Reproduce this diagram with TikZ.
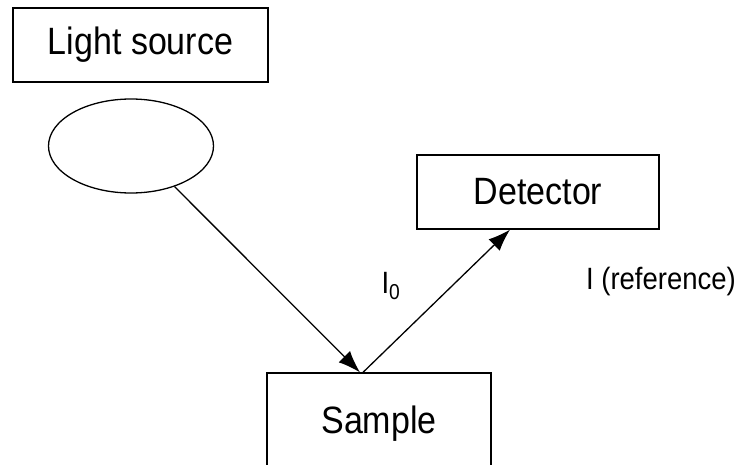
\documentclass[tikz,border=0pt]{standalone}
\usepackage{fontspec}
\setmainfont{Liberation Sans}
\usetikzlibrary{arrows.meta,shapes.geometric}
\tikzset{
  boxnode/.style={draw, line width=1.3pt, rectangle, inner sep=0pt},
  bigtext/.style={font=\fontsize{34}{38}\selectfont},
  lbltext/.style={font=\fontsize{27.5}{30}\selectfont, inner sep=0pt},
  arr/.style={line width=1.3pt, -{Latex[length=22pt,width=16pt]}}
}
\newcommand{\tall}[1]{\scalebox{1}[1.12]{#1}}
\begin{document}
\begin{tikzpicture}[x=1pt,y=1pt]
\useasboundingbox (0,0) rectangle (737,464);
\node[boxnode, bigtext, minimum width=255pt, minimum height=74pt] (light) at (140.5,419) {\raisebox{-5pt}{\tall{Light source}}\hspace{28pt}};
\node[draw, line width=1.3pt, ellipse, minimum width=165pt, minimum height=94pt, inner sep=0pt] (lamp) at (131,318) {};
\node[boxnode, bigtext, minimum width=242pt, minimum height=74pt] (det) at (538,272) {\raisebox{-5pt}{\tall{Detector}}\hspace{27pt}};
\node[boxnode, bigtext, minimum width=224pt, minimum height=106pt] (sample) at (379,38) {\raisebox{13pt}{\tall{Sample}}};
\node[lbltext] (i0) at (391,178) {\tall{I\textsubscript{0}}};
\node[lbltext] (iref) at (661,182) {\tall{I (reference)}};
\draw[arr] (lamp.-43) -- ([xshift=-19pt]sample.north);
\draw[arr] ([xshift=-16pt]sample.north) -- ([xshift=-28pt]det.south);
\end{tikzpicture}
\end{document}
